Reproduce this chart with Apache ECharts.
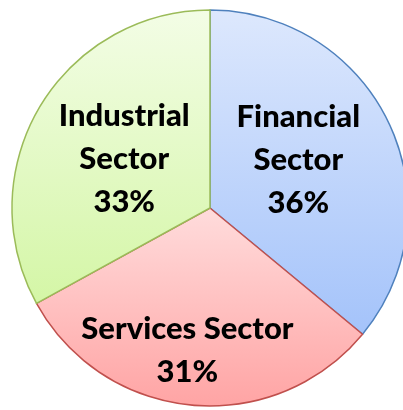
<!DOCTYPE html>
<html><head><meta charset="utf-8">
<script src="https://cdn.jsdelivr.net/npm/echarts@6/dist/echarts.min.js"></script>
<style>html,body{margin:0;padding:0;background:#fff}#c{width:403px;height:410px}</style>
</head><body><div id="c"></div>
<script>
const categories = ['Financial\nSector', 'Services Sector', 'Industrial\nSector'];
const values = [36, 31, 33];
const topColors = ['#dde8fd', '#ffdcdc', '#f3fde6'];
const bottomColors = ['#a4c3fa', '#ffa4a4', '#d4f6a6'];
const borderColors = ['#4f81bd', '#c0504d', '#9bbb59'];

const chart = echarts.init(document.getElementById('c'));
const data = categories.map((n, i) => ({
  name: n, value: values[i],
  itemStyle: {
    color: new echarts.graphic.LinearGradient(0, 0, 0, 1, [
      {offset: 0, color: topColors[i]}, {offset: 1, color: bottomColors[i]}]),
    borderColor: borderColors[i], borderWidth: 1.5
  }
}));
chart.setOption({
  animation: false,
  series: [{
    type: 'pie',
    center: [210, 208],
    radius: [0, 198],
    startAngle: 90,
    clockwise: true,
    data: data,
    label: {
      position: 'inside',
      formatter: p => p.name + '\n' + p.value + '%',
      fontFamily: 'Lato',
      fontWeight: 900,
      fontSize: 31,
      lineHeight: 43,
      color: '#000'
    },
    labelLine: {show: false},
    labelLayout: function (p) {
      if (p.dataIndex === 1) return {dx: -13, dy: 41};
      if (p.dataIndex === 0) return {dx: -4, dy: -5};
      return {dx: 2, dy: 3};
    },
    emphasis: {disabled: true}
  }]
});
</script></body></html>
